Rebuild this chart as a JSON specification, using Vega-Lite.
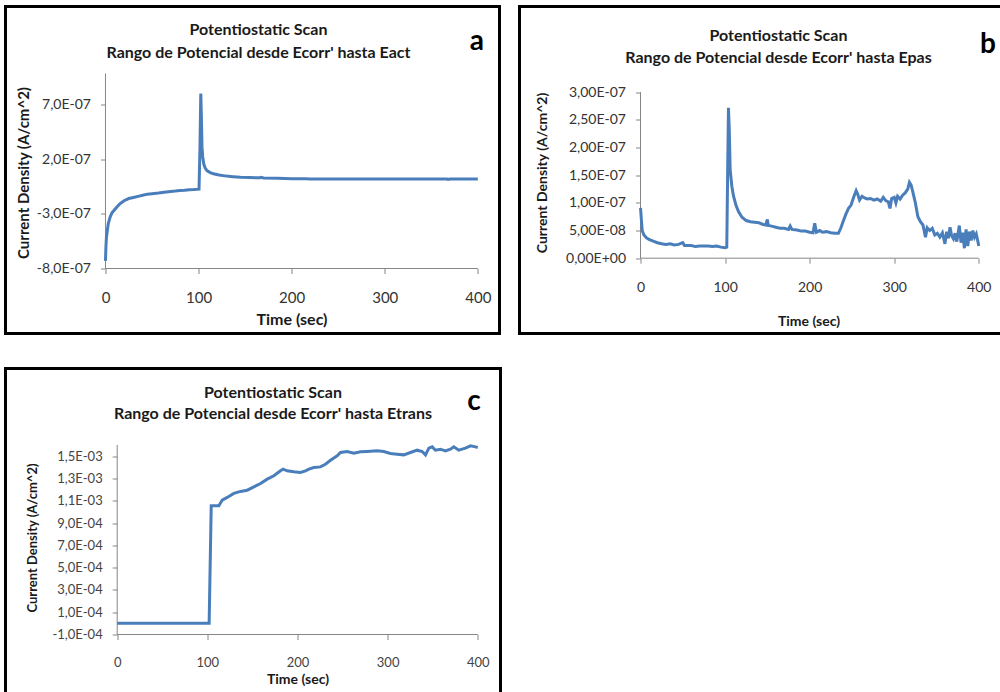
{
  "$schema": "https://vega.github.io/schema/vega-lite/v6.json",
  "background": "white",
  "padding": {"left": 3.5, "top": 4.5, "right": 0, "bottom": 0},
  "config": {
    "view": {"stroke": "black", "strokeWidth": 3, "fill": "white"},
    "axis": {"grid": false, "domain": false, "tickColor": "#868686", "tickSize": 5, "labelFont": "Lato", "labelColor": "#333333", "titleFont": "Lato", "titleFontWeight": "bold", "titleColor": "#1a1a1a", "labelFlush": false, "labelOverlap": false},
    "title": {"font": "Lato", "fontWeight": "bold", "color": "#1a1a1a", "anchor": "middle"},
    "text": {"font": "Lato", "fontWeight": "bold", "color": "black"}
  },
  "datasets": {
    "scanA": [
      {"t": 0, "j": -7.3e-7}, {"t": 0.5, "j": -6.0e-7}, {"t": 1, "j": -5.2e-7}, {"t": 2, "j": -4.5e-7},
      {"t": 3, "j": -3.9e-7}, {"t": 5, "j": -3.3e-7}, {"t": 7, "j": -2.9e-7}, {"t": 10, "j": -2.6e-7},
      {"t": 13, "j": -2.3e-7}, {"t": 16, "j": -2.05e-7}, {"t": 20, "j": -1.8e-7}, {"t": 25, "j": -1.6e-7},
      {"t": 30, "j": -1.5e-7}, {"t": 35, "j": -1.4e-7}, {"t": 40, "j": -1.3e-7}, {"t": 45, "j": -1.2e-7},
      {"t": 50, "j": -1.16e-7}, {"t": 57, "j": -1.1e-7}, {"t": 63, "j": -1.02e-7}, {"t": 70, "j": -9.5e-8},
      {"t": 75, "j": -9.2e-8}, {"t": 80, "j": -8.7e-8}, {"t": 85, "j": -8.5e-8}, {"t": 90, "j": -8.0e-8},
      {"t": 95, "j": -7.8e-8}, {"t": 100.5, "j": -7.4e-8}, {"t": 101.5, "j": 3.0e-7}, {"t": 102.4, "j": 8.0e-7},
      {"t": 103, "j": 6.0e-7}, {"t": 103.7, "j": 3.1e-7}, {"t": 104.5, "j": 2.2e-7}, {"t": 105.5, "j": 1.6e-7},
      {"t": 107, "j": 1.2e-7}, {"t": 109, "j": 9.6e-8}, {"t": 112, "j": 8.0e-8}, {"t": 116, "j": 6.6e-8},
      {"t": 122, "j": 5.5e-8}, {"t": 130, "j": 4.5e-8}, {"t": 137, "j": 4.0e-8}, {"t": 145, "j": 3.5e-8},
      {"t": 155, "j": 3.2e-8}, {"t": 166, "j": 3.0e-8}, {"t": 167, "j": 3.4e-8}, {"t": 170, "j": 2.8e-8},
      {"t": 185, "j": 2.5e-8}, {"t": 200, "j": 2.2e-8}, {"t": 215, "j": 2.2e-8}, {"t": 220, "j": 1.9e-8},
      {"t": 250, "j": 1.9e-8}, {"t": 300, "j": 1.9e-8}, {"t": 340, "j": 1.9e-8}, {"t": 367, "j": 1.8e-8},
      {"t": 368, "j": 1.5e-8}, {"t": 370, "j": 1.9e-8}, {"t": 400, "j": 1.9e-8}
    ],
    "scanB": [
      {"t": 0, "j": 9.1e-8}, {"t": 1, "j": 7.0e-8}, {"t": 2, "j": 5.0e-8}, {"t": 4, "j": 4.2e-8},
      {"t": 7, "j": 3.7e-8}, {"t": 10, "j": 3.4e-8}, {"t": 15, "j": 3.1e-8}, {"t": 20, "j": 2.8e-8},
      {"t": 25, "j": 2.6e-8}, {"t": 30, "j": 2.5e-8}, {"t": 35, "j": 2.6e-8}, {"t": 40, "j": 2.4e-8},
      {"t": 45, "j": 2.5e-8}, {"t": 50, "j": 2.8e-8}, {"t": 52, "j": 2.3e-8}, {"t": 60, "j": 2.3e-8},
      {"t": 65, "j": 2.1e-8}, {"t": 70, "j": 2.2e-8}, {"t": 80, "j": 2.2e-8}, {"t": 85, "j": 2.1e-8},
      {"t": 90, "j": 2.2e-8}, {"t": 95, "j": 2.0e-8}, {"t": 100, "j": 1.9e-8}, {"t": 102, "j": 2.0e-8},
      {"t": 103, "j": 1.5e-7}, {"t": 104, "j": 2.72e-7}, {"t": 105, "j": 2.3e-7}, {"t": 106, "j": 1.6e-7},
      {"t": 108, "j": 1.3e-7}, {"t": 110, "j": 1.12e-7}, {"t": 113, "j": 9.5e-8}, {"t": 116, "j": 8.4e-8},
      {"t": 120, "j": 7.4e-8}, {"t": 125, "j": 6.8e-8}, {"t": 130, "j": 6.6e-8}, {"t": 135, "j": 6.5e-8},
      {"t": 140, "j": 6.4e-8}, {"t": 145, "j": 6.1e-8}, {"t": 148, "j": 6.0e-8}, {"t": 150, "j": 7.0e-8},
      {"t": 151, "j": 5.9e-8}, {"t": 155, "j": 5.8e-8}, {"t": 160, "j": 5.6e-8}, {"t": 165, "j": 5.4e-8},
      {"t": 170, "j": 5.4e-8}, {"t": 175, "j": 5.2e-8}, {"t": 177, "j": 5.8e-8}, {"t": 179, "j": 5.2e-8},
      {"t": 185, "j": 5.1e-8}, {"t": 190, "j": 4.9e-8}, {"t": 195, "j": 4.9e-8}, {"t": 200, "j": 4.7e-8},
      {"t": 204, "j": 4.6e-8}, {"t": 206, "j": 6.3e-8}, {"t": 208, "j": 4.7e-8}, {"t": 212, "j": 5.0e-8},
      {"t": 215, "j": 4.7e-8}, {"t": 220, "j": 4.8e-8}, {"t": 225, "j": 4.6e-8}, {"t": 230, "j": 4.5e-8},
      {"t": 234, "j": 4.5e-8}, {"t": 237, "j": 5.5e-8}, {"t": 240, "j": 6.8e-8}, {"t": 243, "j": 8.0e-8},
      {"t": 246, "j": 9.0e-8}, {"t": 249, "j": 9.6e-8}, {"t": 252, "j": 1.1e-7}, {"t": 255, "j": 1.22e-7},
      {"t": 257, "j": 1.15e-7}, {"t": 259, "j": 1.05e-7}, {"t": 262, "j": 1.12e-7}, {"t": 265, "j": 1.09e-7},
      {"t": 268, "j": 1.07e-7}, {"t": 272, "j": 1.08e-7}, {"t": 276, "j": 1.05e-7}, {"t": 280, "j": 1.07e-7},
      {"t": 284, "j": 1.03e-7}, {"t": 287, "j": 1.1e-7}, {"t": 290, "j": 1.04e-7}, {"t": 293, "j": 1.02e-7},
      {"t": 295, "j": 9.0e-8}, {"t": 297, "j": 1.08e-7}, {"t": 300, "j": 1.1e-7}, {"t": 302, "j": 1.0e-7},
      {"t": 304, "j": 1.12e-7}, {"t": 307, "j": 1.07e-7}, {"t": 310, "j": 1.14e-7}, {"t": 313, "j": 1.18e-7},
      {"t": 316, "j": 1.25e-7}, {"t": 318, "j": 1.37e-7}, {"t": 320, "j": 1.32e-7}, {"t": 322, "j": 1.2e-7},
      {"t": 325, "j": 1.0e-7}, {"t": 328, "j": 7.5e-8}, {"t": 331, "j": 6.6e-8}, {"t": 334, "j": 6.0e-8},
      {"t": 337, "j": 3.8e-8}, {"t": 339, "j": 5.5e-8}, {"t": 342, "j": 5.0e-8}, {"t": 345, "j": 5.4e-8},
      {"t": 348, "j": 4.2e-8}, {"t": 351, "j": 4.5e-8}, {"t": 354, "j": 3.8e-8}, {"t": 357, "j": 4.6e-8},
      {"t": 360, "j": 2.6e-8}, {"t": 362, "j": 4.8e-8}, {"t": 364, "j": 3.6e-8}, {"t": 366, "j": 5.6e-8},
      {"t": 368, "j": 4.0e-8}, {"t": 370, "j": 3.5e-8}, {"t": 372, "j": 4.5e-8}, {"t": 374, "j": 3.0e-8},
      {"t": 377, "j": 5.9e-8}, {"t": 379, "j": 2.8e-8}, {"t": 381, "j": 4.6e-8}, {"t": 383, "j": 1.8e-8},
      {"t": 385, "j": 5.2e-8}, {"t": 387, "j": 2.2e-8}, {"t": 389, "j": 4.8e-8}, {"t": 391, "j": 3.2e-8},
      {"t": 393, "j": 5.0e-8}, {"t": 395, "j": 3.8e-8}, {"t": 397, "j": 4.4e-8}, {"t": 399, "j": 3.0e-8},
      {"t": 400, "j": 2.2e-8}
    ],
    "scanC": [
      {"t": 0, "j": 0}, {"t": 102, "j": 0}, {"t": 104.3, "j": 0.001055}, {"t": 112.8, "j": 0.001055},
      {"t": 116.5, "j": 0.001106}, {"t": 122, "j": 0.00113}, {"t": 129.4, "j": 0.001166}, {"t": 136.8, "j": 0.001184},
      {"t": 144.2, "j": 0.001195}, {"t": 151.6, "j": 0.001225}, {"t": 159, "j": 0.001255}, {"t": 166.4, "j": 0.001294},
      {"t": 173.8, "j": 0.001324}, {"t": 181.1, "j": 0.001369}, {"t": 184.1, "j": 0.001384}, {"t": 188.5, "j": 0.001369},
      {"t": 195.9, "j": 0.00136}, {"t": 203.3, "j": 0.001354}, {"t": 208.9, "j": 0.001369}, {"t": 212.6, "j": 0.001384},
      {"t": 218.1, "j": 0.001398}, {"t": 225.5, "j": 0.001404}, {"t": 231, "j": 0.001428}, {"t": 236.6, "j": 0.001464},
      {"t": 244, "j": 0.001503}, {"t": 247.7, "j": 0.001533}, {"t": 255.1, "j": 0.001542}, {"t": 262.5, "j": 0.001527},
      {"t": 269.9, "j": 0.001539}, {"t": 277.3, "j": 0.001542}, {"t": 288.4, "j": 0.001548}, {"t": 295.7, "j": 0.001542},
      {"t": 303.1, "j": 0.001524}, {"t": 310.5, "j": 0.001518}, {"t": 317.9, "j": 0.001512}, {"t": 325.3, "j": 0.001533},
      {"t": 332.7, "j": 0.001554}, {"t": 338.3, "j": 0.001542}, {"t": 342, "j": 0.001512}, {"t": 345.7, "j": 0.001572},
      {"t": 349.4, "j": 0.001584}, {"t": 353, "j": 0.001554}, {"t": 358.6, "j": 0.001563}, {"t": 364.1, "j": 0.001548},
      {"t": 369.7, "j": 0.001563}, {"t": 373.4, "j": 0.001584}, {"t": 378.9, "j": 0.001554}, {"t": 386.3, "j": 0.001572},
      {"t": 391.9, "j": 0.001593}, {"t": 397.4, "j": 0.001584}, {"t": 400, "j": 0.001578}
    ]
  },
  "bounds": "flush",
  "columns": 2,
  "spacing": {"row": 35, "column": 19},
  "concat": [
    {
      "width": 494,
      "height": 327,
      "title": {"text": ["Potentiostatic Scan", "Rango de Potencial desde Ecorr' hasta Eact"], "fontSize": 16, "lineHeight": 23, "offset": -54, "dx": 6},
      "layer": [
        {
          "data": {"values": [{}]},
          "mark": {"type": "rule", "color": "#868686", "strokeWidth": 1},
          "encoding": {"x": {"datum": 0}, "x2": {"datum": 400}, "y": {"datum": -8e-7}}
        },
        {
          "data": {"values": [{}]},
          "mark": {"type": "rule", "color": "#868686", "strokeWidth": 1},
          "encoding": {"x": {"datum": 0}, "y": {"datum": -8e-7}, "y2": {"datum": 9.84e-7}}
        },
        {
          "data": {"name": "scanA"},
          "mark": {"type": "line", "color": "#4a7ebb", "strokeWidth": 3},
          "encoding": {
            "x": {
              "field": "t", "type": "quantitative",
              "scale": {"domain": [-107.4, 423.3], "nice": false, "zero": false},
              "axis": {"values": [0, 100, 200, 300, 400], "offset": -65, "labelFontSize": 15, "labelPadding": 17,
                "title": "Time (sec)", "titleFontSize": 16, "titleX": 286, "titleY": 51, "titleBaseline": "middle", "titleAlign": "center"}
            },
            "y": {
              "field": "j", "type": "quantitative",
              "scale": {"domain": [-1.3945e-6, 1.5964e-6], "nice": false, "zero": false},
              "axis": {"values": [-8e-7, -3e-7, 2e-7, 7e-7], "offset": -100, "labelFontSize": 14, "labelPadding": 10,
                "labelExpr": "(datum.value < 0 ? '-' : '') + replace(replace(format(abs(datum.value), '.1e'), '.', ','), 'e-', 'E-0')",
                "title": "Current Density (A/cm^2)", "titleFontSize": 15, "titleX": -82, "titleY": 166, "titleAngle": 270, "titleBaseline": "middle", "titleAlign": "center"}
            }
          }
        },
        {
          "data": {"values": [{}]},
          "mark": {"type": "text", "fontSize": 28, "align": "center", "baseline": "alphabetic", "text": "a"},
          "encoding": {"x": {"datum": 399.1}, "y": {"datum": 1.194e-6}}
        }
      ]
    },
    {
      "width": 486,
      "height": 327,
      "title": {"text": ["Potentiostatic Scan", "Rango de Potencial desde Ecorr' hasta Epas"], "fontSize": 16, "lineHeight": 22, "offset": -59, "dx": 16},
      "layer": [
        {
          "data": {"values": [{}]},
          "mark": {"type": "rule", "color": "#868686", "strokeWidth": 1},
          "encoding": {"x": {"datum": 0}, "x2": {"datum": 400}, "y": {"datum": 0}}
        },
        {
          "data": {"values": [{}]},
          "mark": {"type": "rule", "color": "#868686", "strokeWidth": 1},
          "encoding": {"x": {"datum": 0}, "y": {"datum": 0}, "y2": {"datum": 3e-7}}
        },
        {
          "data": {"name": "scanB"},
          "mark": {"type": "line", "color": "#4a7ebb", "strokeWidth": 3},
          "encoding": {
            "x": {
              "field": "t", "type": "quantitative",
              "scale": {"domain": [-143.1, 431.6], "nice": false, "zero": false},
              "axis": {"values": [0, 100, 200, 300, 400], "offset": -75.3, "labelFontSize": 14, "labelPadding": 17,
                "title": "Time (sec)", "titleFontSize": 14, "titleX": 289, "titleY": 63, "titleBaseline": "middle", "titleAlign": "center"}
            },
            "y": {
              "field": "j", "type": "quantitative",
              "scale": {"domain": [-1.361e-7, 4.549e-7], "nice": false, "zero": false},
              "axis": {"values": [0, 5e-8, 1e-7, 1.5e-7, 2e-7, 2.5e-7, 3e-7], "offset": -121, "labelFontSize": 14, "labelPadding": 10,
                "labelExpr": "replace(replace(replace(format(datum.value, '.2e'), '.', ','), 'e-', 'E-0'), 'e+', 'E+0')",
                "title": "Current Density (A/cm^2)", "titleFontSize": 14, "titleX": -98, "titleY": 166, "titleAngle": 270, "titleBaseline": "middle", "titleAlign": "center"}
            }
          }
        },
        {
          "data": {"values": [{}]},
          "mark": {"type": "text", "fontSize": 28, "align": "center", "baseline": "alphabetic", "text": "b"},
          "encoding": {"x": {"datum": 410.9}, "y": {"datum": 3.70e-7}}
        }
      ]
    },
    {
      "width": 495,
      "height": 340,
      "title": {"text": ["Potentiostatic Scan", "Rango de Potencial desde Ecorr' hasta Etrans"], "fontSize": 16, "lineHeight": 21, "offset": -53, "dx": 20},
      "layer": [
        {
          "data": {"values": [{}]},
          "mark": {"type": "rule", "color": "#868686", "strokeWidth": 1},
          "encoding": {"x": {"datum": 0}, "x2": {"datum": 400}, "y": {"datum": -0.0001}}
        },
        {
          "data": {"values": [{}]},
          "mark": {"type": "rule", "color": "#868686", "strokeWidth": 1},
          "encoding": {"x": {"datum": 0}, "y": {"datum": -0.0001}, "y2": {"datum": 0.0016}}
        },
        {
          "data": {"name": "scanC"},
          "mark": {"type": "line", "color": "#4a7ebb", "strokeWidth": 3},
          "encoding": {
            "x": {
              "field": "t", "type": "quantitative",
              "scale": {"domain": [-123.9, 425.2], "nice": false, "zero": false},
              "axis": {"values": [0, 100, 200, 300, 400], "offset": -74, "labelFontSize": 13, "labelPadding": 17, "labelColor": "#444444",
                "title": "Time (sec)", "titleFontSize": 14, "titleX": 292, "titleY": 45, "titleBaseline": "middle", "titleAlign": "center"}
            },
            "y": {
              "field": "j", "type": "quantitative",
              "scale": {"domain": [-0.000764, 0.002287], "nice": false, "zero": false},
              "axis": {"values": [-0.0001, 0.0001, 0.0003, 0.0005, 0.0007, 0.0009, 0.0011, 0.0013, 0.0015], "offset": -111.7, "labelFontSize": 13, "labelPadding": 10, "labelColor": "#444444",
                "labelExpr": "(datum.value < 0 ? '-' : '') + replace(replace(format(abs(datum.value), '.1e'), '.', ','), 'e-', 'E-0')",
                "title": "Current Density (A/cm^2)", "titleFontSize": 13, "titleX": -85, "titleY": 169, "titleAngle": 270, "titleBaseline": "middle", "titleAlign": "center"}
            }
          }
        },
        {
          "data": {"values": [{}]},
          "mark": {"type": "text", "fontSize": 28, "align": "center", "baseline": "alphabetic", "text": "c"},
          "encoding": {"x": {"datum": 395.8}, "y": {"datum": 0.001919}}
        }
      ]
    }
  ]
}
